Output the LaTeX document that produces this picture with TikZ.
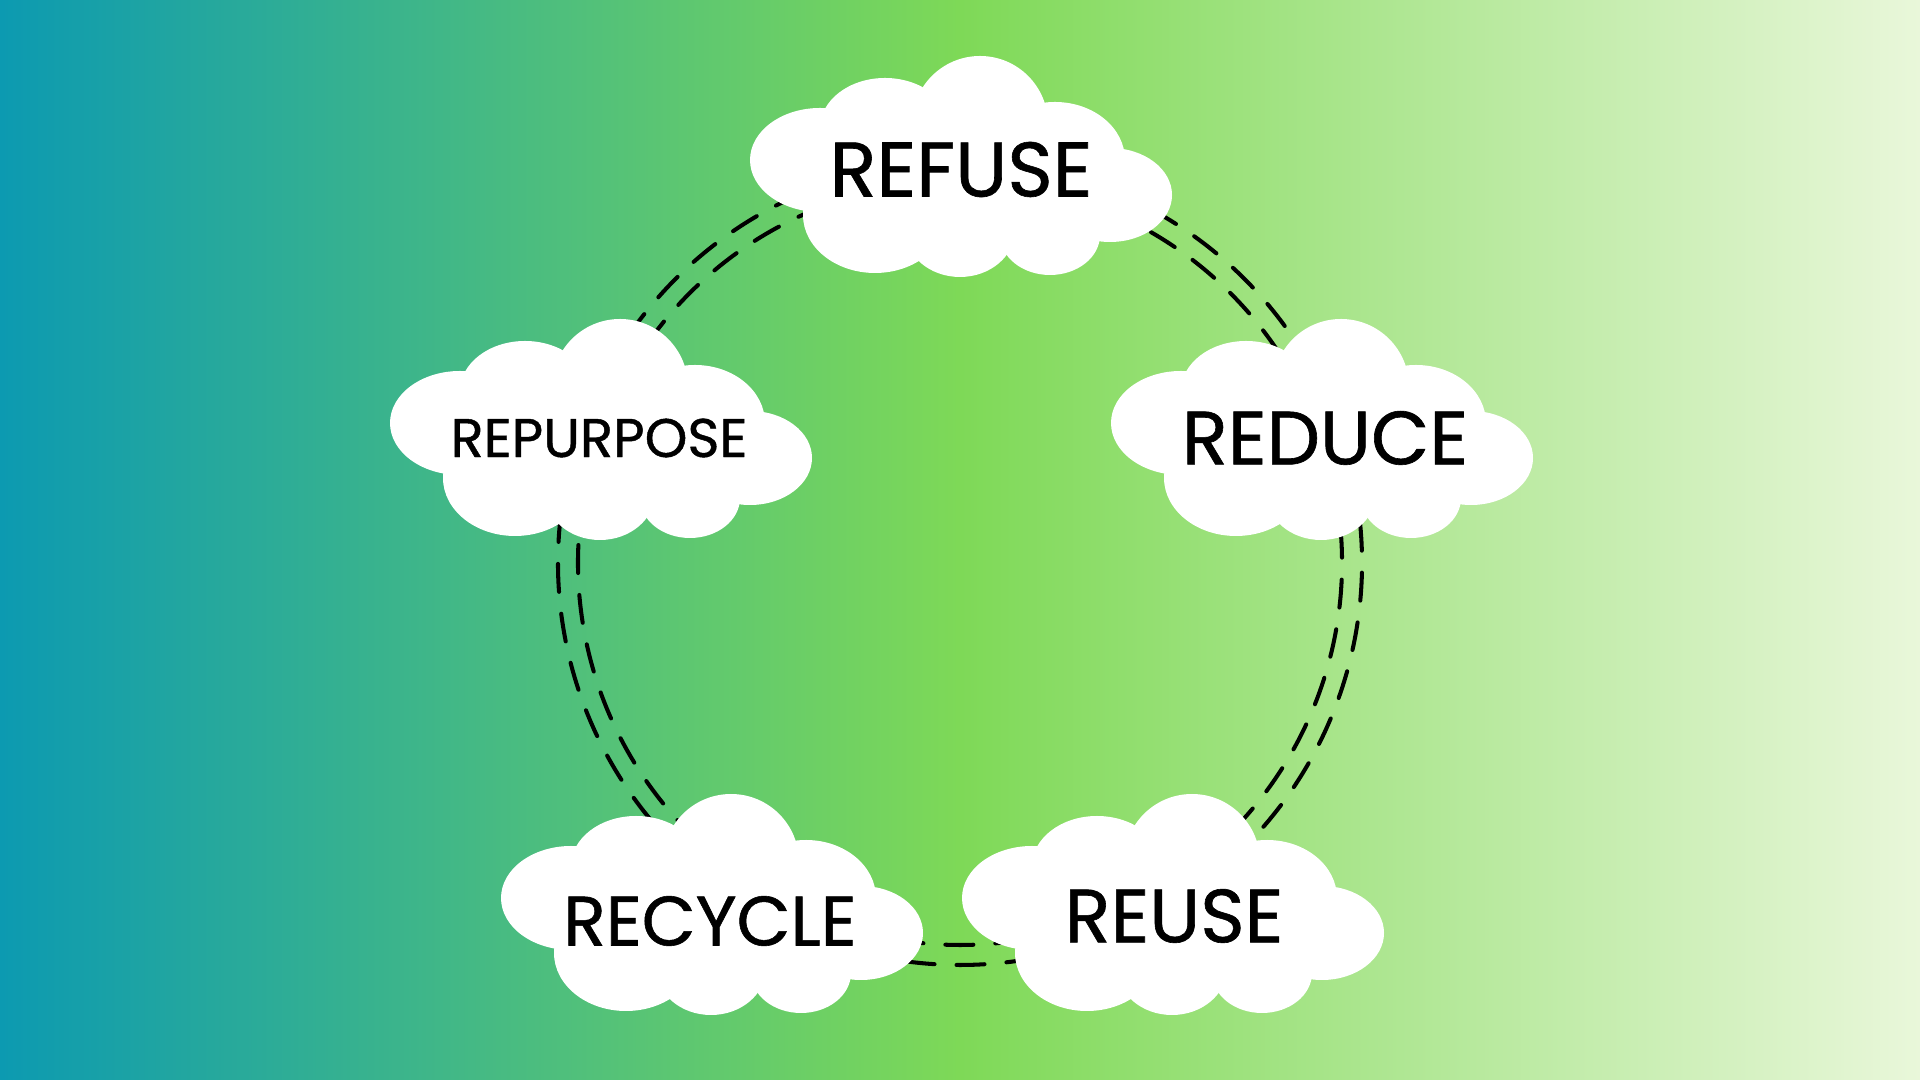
\documentclass[tikz,border=0pt]{standalone}
\usepackage{fontspec}
\setmainfont{Poppins}[FakeBold=0.8]
\usepackage{tikz}
\usetikzlibrary{calc}
\definecolor{bgL}{RGB}{12,154,177}
\definecolor{bgM}{RGB}{126,217,87}
\definecolor{bgR}{RGB}{233,247,218}

\begin{document}
\begin{tikzpicture}[
  ring/.style={line width=1.15pt, dash pattern=on 0.28cm off 0.22cm, line cap=round},
  word/.style={font=\fontsize{#1}{#1}\selectfont, inner sep=0pt},
  pics/cloud/.style={code={
    \fill[white] (-1.40,0.06) ellipse[x radius=0.70, y radius=0.52];
    \fill[white] (-0.75,0.38) ellipse[x radius=0.65, y radius=0.50];
    \fill[white] (0.20,0.42) circle (0.68);
    \fill[white] (0.95,0.06) ellipse[x radius=0.70, y radius=0.58];
    \fill[white] (1.50,-0.29) ellipse[x radius=0.62, y radius=0.47];
    \fill[white] (0.90,-0.69) ellipse[x radius=0.50, y radius=0.40];
    \fill[white] (0.00,-0.64) ellipse[x radius=0.55, y radius=0.47];
    \fill[white] (-0.85,-0.49) ellipse[x radius=0.72, y radius=0.58];
    \fill[white] (0,-0.1) ellipse[x radius=1.2, y radius=0.6];
  }}
]
  % 背景(グラデーション)
  \shade[left color=bgL, right color=bgR, middle color=bgM] (0,0) rectangle (19.2,10.8);
  \useasboundingbox (0,0) rectangle (19.2,10.8);
  % 円環の中心
  \coordinate (ctr) at (9.6,5.17);
  % 二重の破線(雲と雲の間)
  \foreach \a/\b in {90/20, 20/-58, -58/-126, -126/-200, 160/90}{
    \foreach \r in {3.82,4.02}{
      \draw[ring] ($(ctr)+(\a:\r)$) arc[start angle=\a, end angle=\b, radius=\r];
    }
  }
  % 雲
  \pic at (9.60,9.14) {cloud};
  \pic at (13.21,6.51) {cloud};
  \pic at (11.72,1.76) {cloud};
  \pic at (7.11,1.76) {cloud};
  \pic at (6.00,6.51) {cloud};
  % ラベル
  \node[word=22pt] (refuse) at (9.61,9.105) {REFUSE};
  \node[word=21.5pt] (reduce) at (13.25,6.42) {REDUCE};
  \node[word=21.5pt] (reuse) at (11.74,1.64) {REUSE};
  \node[word=19.9pt] (recycle) at (7.10,1.59) {RECYCLE};
  \node[word=15.5pt] (repurpose) at (5.99,6.42) {REPURPOSE};
\end{tikzpicture}
\end{document}
